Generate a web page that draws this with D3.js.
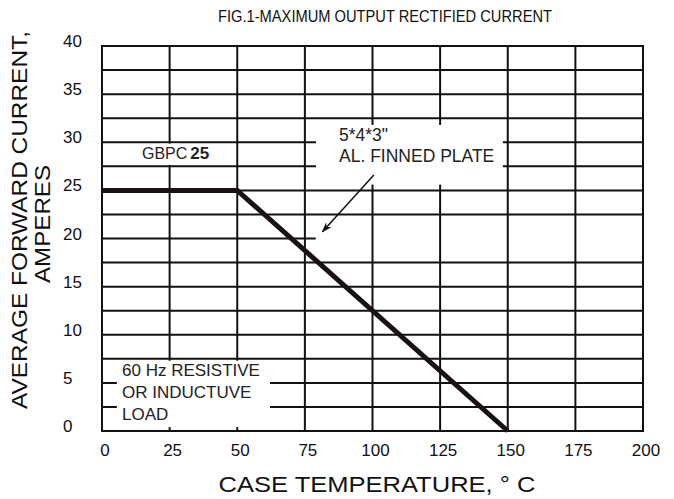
<!DOCTYPE html>
<html>
<head>
<meta charset="utf-8">
<script src="https://cdn.jsdelivr.net/npm/d3@7"></script>
<style>
  body { margin: 0; background: #fff; }
  text { font-family: "Liberation Sans", Arial, sans-serif; fill: #111; }
</style>
</head>
<body>
<div id="chart"></div>
<script>
var width = 674, height = 499;
var margin = {left: 102, right: 31, top: 46, bottom: 68};

// axis values
var tempTicks = [0, 25, 50, 75, 100, 125, 150, 175, 200];
var currentTicks = [0, 5, 10, 15, 20, 25, 30, 35, 40];
var gridCurrent = [2.5, 5, 7.5, 10, 12.5, 15, 17.5, 20, 22.5, 25, 27.5, 30, 32.5, 35, 37.5];

// derating curve
var curveTemp = [0, 50, 150];
var curveCurrent = [25, 25, 0];

// arrow pointing at the curve
var arrowTemp = [100.5, 81.5];
var arrowCurrent = [26.6, 20.7];

// the 20 A grid line stops short in the original
var shortLine = {current: 20, tempEnd: 79};

var xScale = d3.scaleLinear().domain([0, 200]).range([margin.left, width - margin.right]);
var yScale = d3.scaleLinear().domain([0, 40]).range([height - margin.bottom, margin.top]);

var svg = d3.select('#chart')
  .append('svg')
  .attr('width', width)
  .attr('height', height);

svg.append('defs').append('marker')
  .attr('id', 'head')
  .attr('viewBox', '0 0 10 10')
  .attr('refX', 9).attr('refY', 5)
  .attr('markerWidth', 7).attr('markerHeight', 7)
  .attr('orient', 'auto')
  .append('path')
  .attr('d', 'M0,1.5L10,5L0,8.5L3,5Z')
  .attr('fill', '#111');

var grid = svg.append('g').attr('stroke', '#111').attr('stroke-width', 2);

// vertical grid
grid.selectAll('.vg')
  .data(tempTicks.slice(1, -1))
  .enter()
  .append('line')
  .attr('x1', function (d) { return xScale(d); })
  .attr('x2', function (d) { return xScale(d); })
  .attr('y1', yScale(0))
  .attr('y2', yScale(40));

// horizontal grid
grid.selectAll('.hg')
  .data(gridCurrent)
  .enter()
  .append('line')
  .attr('x1', xScale(0))
  .attr('x2', function (d) {
    return d == shortLine.current ? xScale(shortLine.tempEnd) : xScale(200);
  })
  .attr('y1', function (d) { return yScale(d); })
  .attr('y2', function (d) { return yScale(d); });

// frame
grid.append('rect')
  .attr('x', xScale(0))
  .attr('y', yScale(40))
  .attr('width', xScale(200) - xScale(0))
  .attr('height', yScale(0) - yScale(40))
  .attr('fill', 'none');

// white label areas
var boxes = [
  {t0: 21, t1: 29, c0: 27.65, c1: 29.85},
  {t0: 79.1, t1: 148.2, c0: 25.6, c1: 31.8},
  {t0: 5.5, t1: 62.1, c0: 0.4, c1: 7.3}
];
svg.selectAll('.box')
  .data(boxes)
  .enter()
  .append('rect')
  .attr('x', function (d) { return xScale(d.t0); })
  .attr('y', function (d) { return yScale(d.c1); })
  .attr('width', function (d) { return xScale(d.t1) - xScale(d.t0); })
  .attr('height', function (d) { return yScale(d.c0) - yScale(d.c1); })
  .attr('fill', '#fff');

// tick labels
svg.selectAll('.xl')
  .data(tempTicks)
  .enter()
  .append('text')
  .attr('x', function (d) { return xScale(d) + 3; })
  .attr('y', yScale(0) + 25)
  .attr('text-anchor', 'middle')
  .style('font-size', '17px')
  .text(function (d) { return d; });

svg.selectAll('.yl')
  .data(currentTicks)
  .enter()
  .append('text')
  .attr('x', 63)
  .attr('y', function (d) { return yScale(d) + 1; })
  .style('font-size', '17px')
  .text(function (d) { return d; });

// titles
svg.append('text')
  .attr('x', 385)
  .attr('y', 22)
  .attr('text-anchor', 'middle')
  .attr('textLength', 334)
  .attr('lengthAdjust', 'spacingAndGlyphs')
  .style('font-size', '16px')
  .text('FIG.1-MAXIMUM OUTPUT RECTIFIED CURRENT');

svg.append('text')
  .attr('x', 377)
  .attr('y', 492)
  .attr('text-anchor', 'middle')
  .attr('textLength', 317)
  .attr('lengthAdjust', 'spacingAndGlyphs')
  .style('font-size', '22px')
  .text('CASE TEMPERATURE, \u00B0 C');

svg.append('text')
  .attr('transform', 'translate(27,220) rotate(-90)')
  .attr('text-anchor', 'middle')
  .attr('textLength', 378)
  .attr('lengthAdjust', 'spacingAndGlyphs')
  .style('font-size', '22px')
  .text('AVERAGE FORWARD CURRENT,');

svg.append('text')
  .attr('transform', 'translate(50,224) rotate(-90)')
  .attr('text-anchor', 'middle')
  .attr('textLength', 118)
  .attr('lengthAdjust', 'spacingAndGlyphs')
  .style('font-size', '22px')
  .text('AMPERES');

// annotations
var gb = svg.append('text')
  .attr('x', 142)
  .attr('y', 159)
  .style('font-size', '16px')
  .style('fill', '#222');
gb.append('tspan').text('GBPC');
gb.append('tspan').attr('dx', 3).style('font-weight', 'bold').style('font-size', '17px').text('25');

svg.append('text')
  .attr('x', 339).attr('y', 141)
  .style('font-size', '17.5px').style('fill', '#222')
  .text('5*4*3"');
svg.append('text')
  .attr('x', 339).attr('y', 162)
  .style('font-size', '17.5px').style('fill', '#222')
  .text('AL. FINNED PLATE');

var loadLines = ['60 Hz RESISTIVE', 'OR INDUCTUVE', 'LOAD'];
svg.selectAll('.load')
  .data(loadLines)
  .enter()
  .append('text')
  .attr('x', 122)
  .attr('y', function (d, i) { return 376 + i * 22; })
  .style('font-size', '17px')
  .style('fill', '#222')
  .text(function (d) { return d; });

// curve
var line = d3.line()
  .x(function (d) { return xScale(d[0]); })
  .y(function (d) { return yScale(d[1]); });

svg.append('path')
  .datum(d3.zip(curveTemp, curveCurrent))
  .attr('d', line)
  .attr('fill', 'none')
  .attr('stroke', '#1a1212')
  .attr('stroke-width', 5);

svg.append('path')
  .datum(d3.zip(arrowTemp, arrowCurrent))
  .attr('d', line)
  .attr('fill', 'none')
  .attr('stroke', '#111')
  .attr('stroke-width', 1.5)
  .attr('marker-end', 'url(#head)');
</script>
</body>
</html>
